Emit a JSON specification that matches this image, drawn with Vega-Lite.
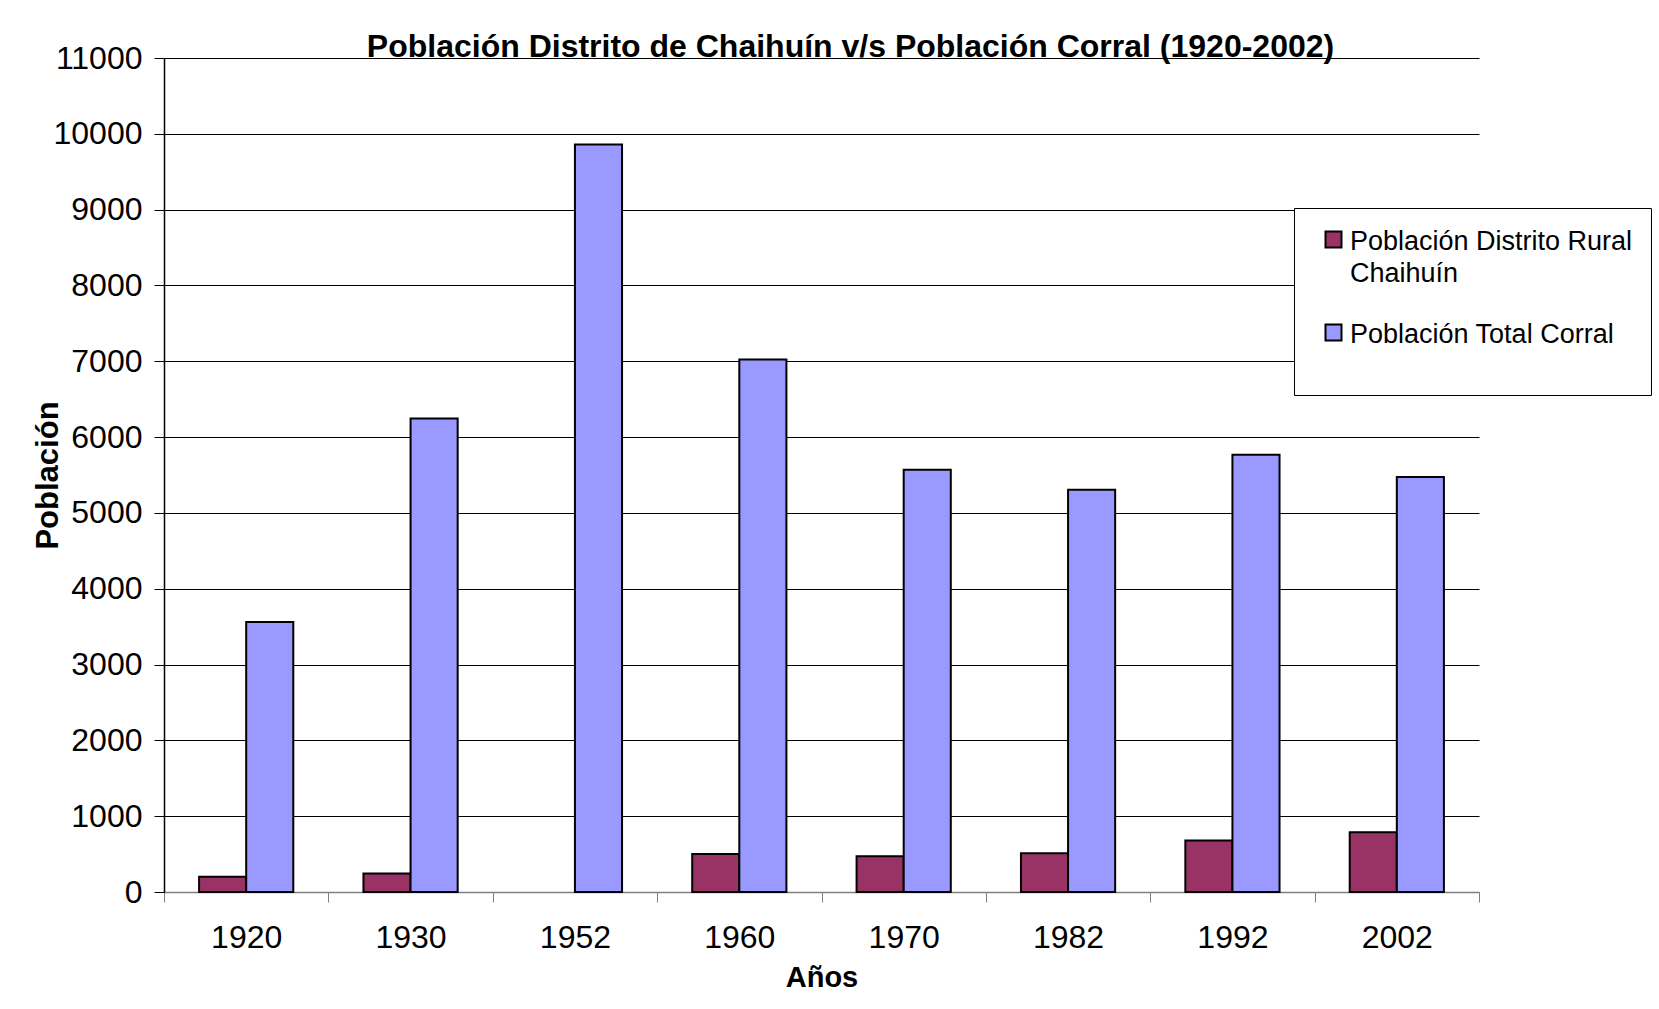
{
  "$schema": "https://vega.github.io/schema/vega-lite/v6.json",
  "width": 1315,
  "height": 834,
  "autosize": {"type": "none"},
  "padding": {"left": 164, "top": 58, "right": 180, "bottom": 117},
  "background": "white",
  "title": {
    "text": "Población Distrito de Chaihuín v/s Población Corral (1920-2002)",
    "fontSize": 32,
    "fontWeight": "bold",
    "font": "Liberation Sans",
    "color": "black",
    "anchor": "middle",
    "frame": "group",
    "baseline": "alphabetic",
    "offset": -47,
    "dx": 29
  },
  "data": {
    "values": [
      {"year": "1920", "serie": "Población Distrito Rural Chaihuín", "value": 200},
      {"year": "1920", "serie": "Población Total Corral", "value": 3560},
      {"year": "1930", "serie": "Población Distrito Rural Chaihuín", "value": 245},
      {"year": "1930", "serie": "Población Total Corral", "value": 6245},
      {"year": "1952", "serie": "Población Total Corral", "value": 9860},
      {"year": "1960", "serie": "Población Distrito Rural Chaihuín", "value": 500},
      {"year": "1960", "serie": "Población Total Corral", "value": 7025},
      {"year": "1970", "serie": "Población Distrito Rural Chaihuín", "value": 470},
      {"year": "1970", "serie": "Población Total Corral", "value": 5570},
      {"year": "1982", "serie": "Población Distrito Rural Chaihuín", "value": 512},
      {"year": "1982", "serie": "Población Total Corral", "value": 5305},
      {"year": "1992", "serie": "Población Distrito Rural Chaihuín", "value": 678},
      {"year": "1992", "serie": "Población Total Corral", "value": 5768},
      {"year": "2002", "serie": "Población Distrito Rural Chaihuín", "value": 787},
      {"year": "2002", "serie": "Población Total Corral", "value": 5475}
    ]
  },
  "mark": {"type": "bar", "stroke": "black", "strokeWidth": 2, "opacity": 1},
  "encoding": {
    "x": {
      "field": "year",
      "type": "nominal",
      "scale": {"paddingInner": 0, "paddingOuter": 0},
      "title": "Años",
      "axis": {
        "labelAngle": 0,
        "labelFontSize": 32,
        "labelColor": "black",
        "labelPadding": 20,
        "tickBand": "extent",
        "tickSize": 10,
        "tickColor": "#808080",
        "domainColor": "#808080",
        "domainWidth": 1.5,
        "grid": false,
        "titleFontSize": 29,
        "titleFontWeight": "bold",
        "titleColor": "black",
        "titleY": 85,
        "titleBaseline": "middle"
      }
    },
    "xOffset": {
      "field": "serie",
      "scale": {
        "domain": ["Población Distrito Rural Chaihuín", "Población Total Corral"],
        "paddingInner": 0,
        "paddingOuter": 0.745
      }
    },
    "y": {
      "field": "value",
      "type": "quantitative",
      "scale": {"domain": [0, 11000], "nice": false},
      "title": "Población",
      "axis": {
        "values": [0, 1000, 2000, 3000, 4000, 5000, 6000, 7000, 8000, 9000, 10000, 11000],
        "format": "d",
        "labelFontSize": 32,
        "labelColor": "black",
        "labelPadding": 12,
        "tickSize": 10,
        "tickColor": "black",
        "domainColor": "black",
        "domainWidth": 1.5,
        "grid": true,
        "gridColor": "black",
        "gridWidth": 1,
        "titleFontSize": 31,
        "titleFontWeight": "bold",
        "titleColor": "black",
        "titleX": -116,
        "titleBaseline": "middle"
      }
    },
    "color": {
      "field": "serie",
      "type": "nominal",
      "scale": {
        "domain": ["Población Distrito Rural Chaihuín", "Población Total Corral"],
        "range": ["#993366", "#9999FF"]
      },
      "legend": {
        "orient": "none",
        "legendX": 1130,
        "legendY": 150,
        "title": "\u00a0\u00a0\u00a0\u00a0\u00a0\u00a0\u00a0\u00a0\u00a0\u00a0\u00a0\u00a0\u00a0\u00a0\u00a0\u00a0\u00a0\u00a0\u00a0\u00a0\u00a0\u00a0\u00a0\u00a0\u00a0\u00a0\u00a0\u00a0\u00a0\u00a0\u00a0\u00a0\u00a0\u00a0\u00a0\u00a0\u00a0\u00a0\u00a0\u00a0\u00a0\u00a0\u00a0\u00a0\u00a0\u00a0\u00a0\u00a0\u00a0\u00a0\u00a0\u00a0\u00a0\u00a0\u00a0\u00a0\u00a0\u00a0\u00a0\u00a0\u00a0\u00a0\u00a0\u00a0",
        "titleOrient": "bottom",
        "titleFontSize": 20,
        "titlePadding": 9,
        "titleLimit": 0,
        "fillColor": "white",
        "strokeColor": "black",
        "padding": 18,
        "labelFontSize": 27,
        "labelColor": "black",
        "labelLimit": 0,
        "labelOffset": 3,
        "symbolOffset": 8,
        "labelBaseline": "alphabetic",
        "symbolType": "square",
        "symbolSize": 256,
        "symbolStrokeColor": "black",
        "symbolStrokeWidth": 2,
        "symbolOpacity": 1,
        "rowPadding": 32,
        "labelExpr": "datum.label == 'Población Distrito Rural Chaihuín' ? ['Población Distrito Rural', 'Chaihuín'] : datum.label",
        "encode": {"labels": {"update": {"dy": {"value": 10}, "lineHeight": {"value": 32}}}}
      }
    }
  },
  "config": {
    "view": {"stroke": null},
    "font": "Liberation Sans"
  }
}
